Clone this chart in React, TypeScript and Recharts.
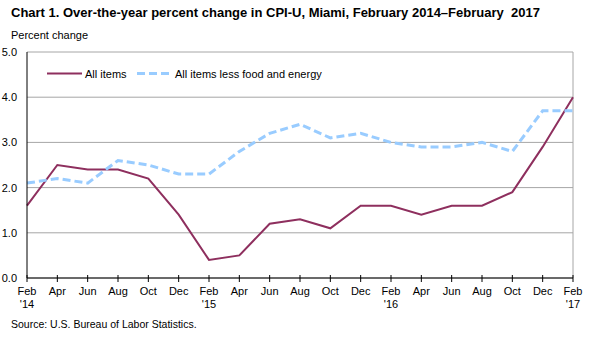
import React from "react";
import { CartesianGrid, Line, LineChart, ReferenceLine, XAxis, YAxis } from "recharts";

// Bimonthly periods, Feb 2014 to Feb 2017
const periods = [
  "Feb 2014", "Apr 2014", "Jun 2014", "Aug 2014", "Oct 2014", "Dec 2014",
  "Feb 2015", "Apr 2015", "Jun 2015", "Aug 2015", "Oct 2015", "Dec 2015",
  "Feb 2016", "Apr 2016", "Jun 2016", "Aug 2016", "Oct 2016", "Dec 2016",
  "Feb 2017",
];
const monthLabels = [
  "Feb", "Apr", "Jun", "Aug", "Oct", "Dec",
  "Feb", "Apr", "Jun", "Aug", "Oct", "Dec",
  "Feb", "Apr", "Jun", "Aug", "Oct", "Dec",
  "Feb",
];
const yearLabels = [
  "'14", "", "", "", "", "",
  "'15", "", "", "", "", "",
  "'16", "", "", "", "", "",
  "'17",
];
const allItems = [1.6, 2.5, 2.4, 2.4, 2.2, 1.4, 0.4, 0.5, 1.2, 1.3, 1.1, 1.6, 1.6, 1.4, 1.6, 1.6, 1.9, 2.9, 4.0];
const lessFoodEnergy = [2.1, 2.2, 2.1, 2.6, 2.5, 2.3, 2.3, 2.8, 3.2, 3.4, 3.1, 3.2, 3.0, 2.9, 2.9, 3.0, 2.8, 3.7, 3.7];
const yTicks = [0, 1, 2, 3, 4, 5];

const data = periods.map((p, i) => ({
  period: p,
  all: allItems[i],
  core: lessFoodEnergy[i],
}));

const FONT = "'Liberation Sans', Arial, sans-serif";
const MAROON = "#8e2f5e";
const LIGHT_BLUE = "#99ccff";

const XTick = (props: any) => {
  const { x, y, payload } = props;
  const i = payload.index;
  return (
    <g>
      <line x1={x} x2={x} y1={y - 3} y2={y + 4} stroke="#000" strokeWidth={1} />
      <text x={x} y={y + 17} textAnchor="middle" fontSize={11} fill="#000" fontFamily={FONT}>
        {monthLabels[i]}
      </text>
      {yearLabels[i] && (
        <text x={x} y={y + 30} textAnchor="middle" fontSize={11} fill="#000" fontFamily={FONT}>
          {yearLabels[i]}
        </text>
      )}
    </g>
  );
};

export default function App() {
  return (
    <div style={{ position: "absolute", left: 0, top: 0, width: 591, height: 337, background: "#fff", fontFamily: FONT }}>
      <div style={{ position: "absolute", left: 11, top: 5, fontSize: 13, fontWeight: 700, whiteSpace: "pre" }}>
        Chart 1. Over-the-year percent change in CPI-U, Miami, February 2014–February  2017
      </div>
      <div style={{ position: "absolute", left: 11, top: 29, fontSize: 11 }}>Percent change</div>

      <LineChart width={591} height={337} data={data} margin={{ top: 52, right: 18, bottom: 29, left: 0 }}>
        <CartesianGrid horizontal vertical={false} stroke="#a6a6a6" />
        <ReferenceLine x="Feb 2017" stroke="#a6a6a6" />
        <XAxis
          dataKey="period"
          height={30}
          interval={0}
          axisLine={{ stroke: "#000" }}
          tickLine={false}
          tickSize={0}
          tickMargin={0}
          tick={<XTick />}
          padding={{ left: 0, right: 0 }}
        />
        <YAxis
          width={27}
          domain={[0, 5]}
          ticks={yTicks}
          tickFormatter={(v: number) => v.toFixed(1)}
          axisLine={{ stroke: "#000" }}
          tickLine={false}
          tickSize={5}
          tickMargin={5}
          tick={{ fontSize: 11, fill: "#000", fontFamily: FONT }}
        />
        <Line dataKey="all" stroke={MAROON} strokeWidth={2} dot={false} isAnimationActive={false} />
        <Line
          dataKey="core"
          stroke={LIGHT_BLUE}
          strokeWidth={3}
          strokeDasharray="8 4"
          dot={false}
          isAnimationActive={false}
        />
      </LineChart>

      {/* legend */}
      <svg style={{ position: "absolute", left: 0, top: 0 }} width={591} height={100} pointerEvents="none">
        <line x1={47} x2={82} y1={73.5} y2={73.5} stroke={MAROON} strokeWidth={2} />
        <text x={85} y={77.5} fontSize={11} fontFamily={FONT} fill="#000">All items</text>
        <line x1={137} x2={169} y1={73.5} y2={73.5} stroke={LIGHT_BLUE} strokeWidth={3} strokeDasharray="8 4" />
        <text x={175} y={77.5} fontSize={11} fontFamily={FONT} fill="#000">All items less food and energy</text>
      </svg>

      <div style={{ position: "absolute", left: 11, top: 318, fontSize: 10.5 }}>Source: U.S. Bureau of Labor Statistics.</div>
    </div>
  );
}
